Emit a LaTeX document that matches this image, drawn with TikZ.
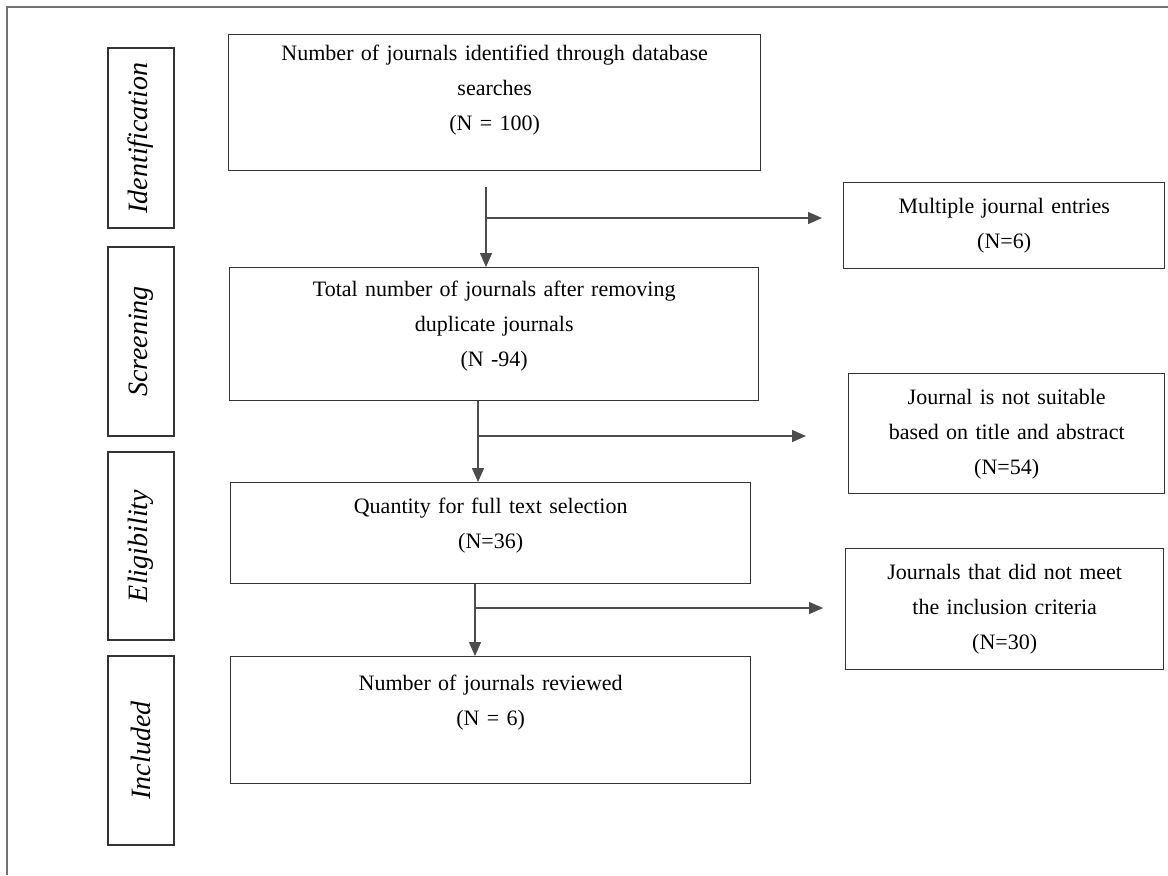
\documentclass[tikz,border=0pt]{standalone}
\usepackage{fontspec}
\setmainfont{Liberation Serif}
\usetikzlibrary{arrows.meta}

\begin{document}
\begin{tikzpicture}
      [x=0.5pt,y=-0.5pt,line join=miter,
       box/.style={draw=black!80,line width=0.7pt,align=center,inner xsep=0pt,inner ysep=0pt,font=\fontsize{11}{17.5}\selectfont},
       stagebox/.style={box,anchor=north west},
       sidebox/.style={box,anchor=north west},
       phase/.style={draw=black!80,line width=0.7pt,rotate=90,minimum height=33pt,inner sep=0pt,font=\fontsize{14}{16}\selectfont\itshape},
       flow/.style={-{Triangle[length=7pt,width=6pt]},draw=black!70,line width=0.7pt}]

 \useasboundingbox (0,0) rectangle (1168,875);

%outer frame
 \draw[black!55,line width=0.6pt] (1168,7) -- (7,7) -- (7,875);

%phase labels on the left
 \node[phase,minimum width=90pt] (identification) at (141,138) {Identification};
 \node[phase,minimum width=94.5pt] (screening) at (141,341.5) {Screening};
 \node[phase,minimum width=94pt] (eligibility) at (141,546) {Eligibility};
 \node[phase,minimum width=94.5pt] (included) at (141,750.5) {Included};

%main column
 \node[stagebox,text width=266pt,text height=13pt,text depth=55pt] (found) at (228,34)
   {Number of journals identified through database\\searches\\(N = 100)};
 \node[stagebox,text width=264.5pt,text height=14.5pt,text depth=52pt] (dedup) at (229,267)
   {Total number of journals after removing\\duplicate journals\\(N -94)};
 \node[stagebox,text width=260pt,text height=15.5pt,text depth=35pt] (fulltext) at (230,482)
   {Quantity for full text selection\\(N=36)};
 \node[stagebox,text width=260pt,text height=17pt,text depth=46.5pt] (reviewed) at (230,656)
   {Number of journals reviewed\\(N = 6)};

%removed journals on the right
 \node[sidebox,text width=160.5pt,minimum height=43pt] (multi) at (843,182)
   {Multiple journal entries\\(N=6)};
 \node[sidebox,text width=158pt,minimum height=60pt] (unsuit) at (848,373)
   {Journal is not suitable\\based on title and abstract\\(N=54)};
 \node[sidebox,text width=159pt,minimum height=60.5pt] (excluded) at (845,548)
   {Journals that did not meet\\the inclusion criteria\\(N=30)};

%arrows
 \coordinate (drop1) at (486,187);
 \coordinate (tee1) at (486,218);
 \coordinate (tip1) at (822,218);
 \draw[flow] (drop1) -- (drop1 |- dedup.north);
 \draw[flow] (tee1) -- (tip1);

 \coordinate (tee2) at (478,436);
 \coordinate (tip2) at (806,436);
 \draw[flow] (tee2 |- dedup.south) -- (tee2 |- fulltext.north);
 \draw[flow] (tee2) -- (tip2);

 \coordinate (tee3) at (475,608);
 \coordinate (tip3) at (823,608);
 \draw[flow] (tee3 |- fulltext.south) -- (tee3 |- reviewed.north);
 \draw[flow] (tee3) -- (tip3);

\end{tikzpicture}
\end{document}
